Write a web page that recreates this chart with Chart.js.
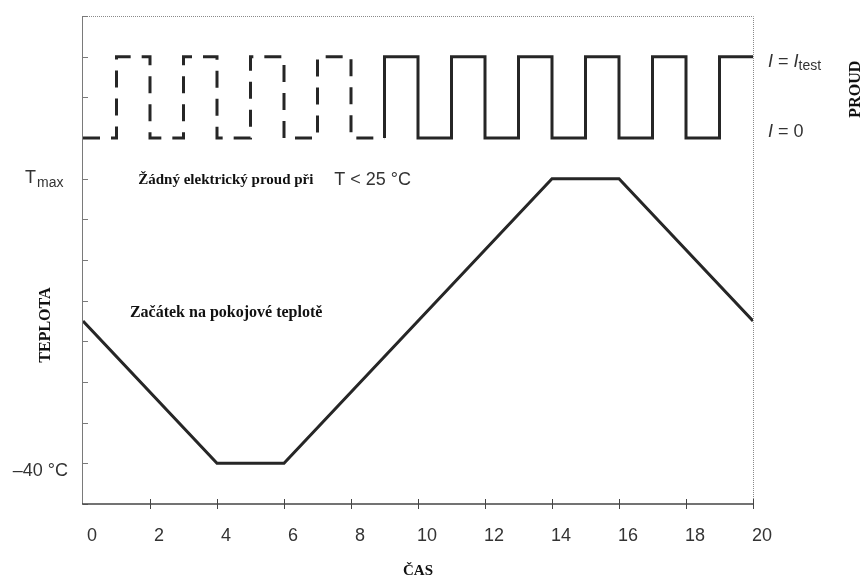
<!DOCTYPE html>
<html>
<head>
<meta charset="utf-8">
<script src="https://cdn.jsdelivr.net/npm/chart.js@4.4.0/dist/chart.umd.min.js"></script>
<style>
    html, body { margin: 0; padding: 0; background: #fff; }
    #wrap { width: 863px; height: 577px; }
</style>
</head>
<body>
<div id="wrap"><canvas id="cycle_chart" width="863" height="577"></canvas></div>
<script>
// Time axis (ČAS)
const timeTicks = [0, 2, 4, 6, 8, 10, 12, 14, 16, 18, 20];

// Vertical axis is in grid steps: -40 °C = 1, Tmax = 8, I = 0 -> 9, I = Itest -> 11
const tempTime = [0, 4, 6, 14, 16, 20];
const tempLevel = [4.5, 1, 1, 8, 8, 4.5];

// Current while T < 25 °C (dashed), stepped lines
const dashedTime = [0, 1, 2, 3, 4, 5, 6, 7, 8, 9];
const dashedLevel = [9, 11, 9, 11, 9, 11, 9, 11, 9, 9];

// Test current afterwards (solid)
const solidTime = [9, 9, 10, 11, 12, 13, 14, 15, 16, 17, 18, 19, 20];
const solidLevel = [9, 11, 9, 11, 9, 11, 9, 11, 9, 11, 9, 11, 11];

const levelMinus40 = 1;
const levelTmax = 8;
const levelOff = 9;
const levelTest = 11;

const lineColor = '#262626';
const sansFont = '"Liberation Sans", Arial, sans-serif';
const serifFont = '"Liberation Serif", "Times New Roman", serif';

function toPoints(xs, ys) {
    return xs.map((x, i) => ({ x: x, y: ys[i] }));
}

/**
 * Frame, inward tick marks and all the free text of the figure
 */
const figurePlugin = {
    id: 'figure',
    beforeDatasetsDraw(chart) {
        const ctx = chart.ctx;
        const a = chart.chartArea;
        const xs = chart.scales.x;
        const ys = chart.scales.y;
        ctx.save();

        // top and right: thin dotted
        ctx.strokeStyle = '#8a8a8a';
        ctx.lineWidth = 1;
        ctx.setLineDash([1, 1]);
        ctx.beginPath();
        ctx.moveTo(a.left, a.top + 0.5);
        ctx.lineTo(a.right + 0.5, a.top + 0.5);
        ctx.lineTo(a.right + 0.5, a.bottom);
        ctx.stroke();

        // left axis
        ctx.setLineDash([]);
        ctx.strokeStyle = '#7a7a7a';
        ctx.beginPath();
        ctx.moveTo(a.left - 0.5, a.top);
        ctx.lineTo(a.left - 0.5, a.bottom);
        ctx.stroke();

        // left ticks
        ys.ticks.forEach(t => {
            const py = Math.round(ys.getPixelForValue(t.value)) + 0.5;
            ctx.beginPath();
            ctx.moveTo(a.left, py);
            ctx.lineTo(a.left + 5, py);
            ctx.stroke();
        });

        // bottom axis
        ctx.strokeStyle = '#444';
        ctx.lineWidth = 1.5;
        ctx.beginPath();
        ctx.moveTo(a.left - 1, a.bottom);
        ctx.lineTo(a.right + 1, a.bottom);
        ctx.stroke();

        ctx.lineWidth = 1;
        xs.ticks.forEach(t => {
            if (t.value === 0) return;
            const px = Math.round(xs.getPixelForValue(t.value)) + 0.5;
            ctx.beginPath();
            ctx.moveTo(px, a.bottom - 5);
            ctx.lineTo(px, a.bottom + 5);
            ctx.stroke();
        });
        ctx.restore();
    },
    afterDraw(chart) {
        const ctx = chart.ctx;
        const a = chart.chartArea;
        const xs = chart.scales.x;
        const ys = chart.scales.y;
        ctx.save();
        ctx.fillStyle = '#333';
        ctx.textBaseline = 'alphabetic';

        // Tmax
        const yT = ys.getPixelForValue(levelTmax);
        ctx.textAlign = 'left';
        ctx.font = '18px ' + sansFont;
        ctx.fillText('T', a.left - 58, yT + 4);
        ctx.font = '14px ' + sansFont;
        ctx.fillText('max', a.left - 46, yT + 8);

        // -40 °C
        const y40 = ys.getPixelForValue(levelMinus40);
        ctx.textAlign = 'right';
        ctx.font = '18px ' + sansFont;
        ctx.fillText('\u201340 \u00B0C', a.left - 15, y40 + 13);

        // right labels: I = Itest and I = 0
        let x = a.right + 15;
        const yTest = ys.getPixelForValue(levelTest) + 10;
        ctx.textAlign = 'left';
        ctx.font = 'italic 18px ' + sansFont;
        ctx.fillText('I', x, yTest);
        x += ctx.measureText('I').width;
        ctx.font = '18px ' + sansFont;
        ctx.fillText(' = ', x, yTest);
        x += ctx.measureText(' = ').width;
        ctx.font = 'italic 18px ' + sansFont;
        ctx.fillText('I', x, yTest);
        x += ctx.measureText('I').width;
        ctx.font = '14px ' + sansFont;
        ctx.fillText('test', x, yTest + 3);

        x = a.right + 15;
        const yOff = ys.getPixelForValue(levelOff) - 1;
        ctx.font = 'italic 18px ' + sansFont;
        ctx.fillText('I', x, yOff);
        x += ctx.measureText('I').width;
        ctx.font = '18px ' + sansFont;
        ctx.fillText(' = 0', x, yOff);

        // notes inside the plot
        ctx.fillStyle = '#111';
        ctx.textBaseline = 'middle';
        const xNote = xs.getPixelForValue(1.65);
        ctx.font = 'bold 15px ' + serifFont;
        ctx.fillText('\u017D\u00E1dn\u00FD elektrick\u00FD proud p\u0159i', xNote, yT + 1);
        ctx.fillStyle = '#333';
        ctx.font = '18px ' + sansFont;
        ctx.fillText('T < 25 \u00B0C', xs.getPixelForValue(7.5), yT + 1);

        ctx.fillStyle = '#111';
        ctx.font = 'bold 16px ' + serifFont;
        ctx.fillText('Za\u010D\u00E1tek na pokojov\u00E9 teplot\u011B', xs.getPixelForValue(1.4), ys.getPixelForValue(4.7));

        // axis titles
        ctx.textAlign = 'center';
        ctx.font = 'bold 16px ' + serifFont;
        ctx.save();
        ctx.translate(46, ys.getPixelForValue(4.4));
        ctx.rotate(-Math.PI / 2);
        ctx.fillText('TEPLOTA', 0, 0);
        ctx.restore();

        ctx.save();
        ctx.translate(856, ys.getPixelForValue(10.2));
        ctx.rotate(-Math.PI / 2);
        ctx.fillText('PROUD', 0, 0);
        ctx.restore();

        ctx.textBaseline = 'alphabetic';
        ctx.font = 'bold 15px ' + serifFont;
        ctx.fillText('\u010CAS', (a.left + a.right) / 2, a.bottom + 71);
        ctx.restore();
    }
};

const ctx = document.getElementById('cycle_chart');

const cycleChart = new Chart(ctx, {
    type: 'line',
    data: {
        datasets: [{
            label: 'Teplota',
            data: toPoints(tempTime, tempLevel),
            borderColor: lineColor,
            borderWidth: 3,
            borderJoinStyle: 'miter',
            pointRadius: 0,
            tension: 0
        }, {
            label: 'Proud (T < 25 °C)',
            data: toPoints(dashedTime, dashedLevel),
            borderColor: lineColor,
            borderWidth: 3,
            borderDash: [17, 11],
            borderCapStyle: 'butt',
            borderJoinStyle: 'miter',
            stepped: 'before',
            pointRadius: 0
        }, {
            label: 'Proud',
            data: toPoints(solidTime, solidLevel),
            borderColor: lineColor,
            borderWidth: 3,
            borderJoinStyle: 'miter',
            stepped: 'before',
            pointRadius: 0
        }]
    },
    options: {
        responsive: false,
        animation: false,
        layout: {
            padding: { top: 16, left: 0, right: 0, bottom: 0 }
        },
        plugins: {
            legend: { display: false },
            tooltip: { enabled: false },
            title: { display: false }
        },
        scales: {
            x: {
                type: 'linear',
                min: timeTicks[0],
                max: timeTicks[timeTicks.length - 1],
                afterBuildTicks: function(scale) {
                    scale.ticks = timeTicks.map(v => ({ value: v }));
                },
                afterFit: function(scale) {
                    scale.height = 73;
                },
                grid: { display: false, drawTicks: false },
                border: { display: false },
                ticks: {
                    padding: 21,
                    labelOffset: 9,
                    color: '#333',
                    maxRotation: 0,
                    autoSkip: false,
                    font: { family: sansFont, size: 18 }
                }
            },
            y: {
                type: 'linear',
                position: 'left',
                min: 0,
                max: 12,
                ticks: { stepSize: 1, display: false },
                grid: { display: false, drawTicks: false },
                border: { display: false },
                afterFit: function(scale) {
                    scale.width = 83;
                }
            },
            y2: {
                type: 'linear',
                position: 'right',
                min: 0,
                max: 12,
                ticks: { display: false },
                grid: { display: false, drawTicks: false },
                border: { display: false },
                afterFit: function(scale) {
                    scale.width = 110;
                }
            }
        }
    },
    plugins: [figurePlugin]
});
</script>
</body>
</html>
